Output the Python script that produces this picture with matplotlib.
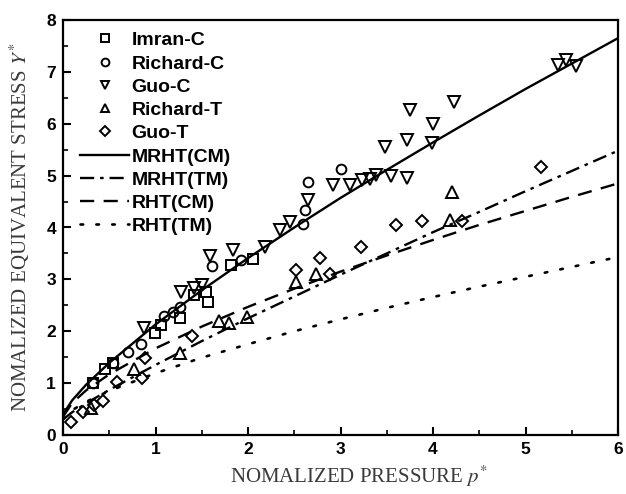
import matplotlib
matplotlib.use("Agg")
import matplotlib.pyplot as plt

# ---------------- data ----------------
imran_c_x = [0.32, 0.45, 0.54, 0.99, 1.06, 1.27, 1.42, 1.55, 1.57, 1.82, 2.05]
imran_c_y = [1.00, 1.27, 1.38, 1.96, 2.12, 2.25, 2.70, 2.76, 2.56, 3.28, 3.40]

richard_c_x = [0.32, 0.54, 0.70, 0.84, 1.09, 1.19, 1.27, 1.61, 1.92, 2.59, 2.62, 2.65, 3.01]
richard_c_y = [1.00, 1.38, 1.60, 1.75, 2.29, 2.38, 2.46, 3.26, 3.38, 4.06, 4.34, 4.88, 5.12]

guo_c_x = [0.88, 1.28, 1.42, 1.50, 1.59, 1.84, 2.18, 2.35, 2.45, 2.65, 2.92, 3.10, 3.23,
           3.32, 3.38, 3.48, 3.55, 3.72, 3.72, 3.75, 3.99, 4.00, 4.23, 5.35, 5.44, 5.55]
guo_c_y = [2.07, 2.76, 2.83, 2.90, 3.45, 3.56, 3.62, 3.95, 4.11, 4.53, 4.82, 4.82, 4.91,
           4.93, 5.01, 5.56, 4.99, 4.95, 5.68, 6.26, 5.63, 6.00, 6.42, 7.13, 7.23, 7.11]

richard_t_x = [0.30, 0.77, 1.26, 1.69, 1.79, 1.99, 2.52, 2.74, 4.18, 4.20]
richard_t_y = [0.53, 1.27, 1.58, 2.20, 2.16, 2.28, 2.95, 3.10, 4.14, 4.69]

guo_t_x = [0.09, 0.22, 0.34, 0.43, 0.58, 0.85, 0.89, 1.39, 2.52, 2.78, 2.89, 3.22, 3.60, 3.88, 4.31, 5.17]
guo_t_y = [0.26, 0.45, 0.58, 0.65, 1.03, 1.10, 1.48, 1.90, 3.18, 3.42, 3.11, 3.62, 4.04, 4.12, 4.13, 5.17]

curve_x = [0.0, 0.1, 0.25, 0.5, 1.0, 1.5, 2.0, 2.5, 3.0, 3.5, 4.0, 4.5, 5.0, 5.5, 6.0]
mrht_cm_y = [0.40, 0.67, 0.97, 1.39, 2.13, 2.79, 3.41, 4.00, 4.57, 5.11, 5.64, 6.16, 6.67, 7.16, 7.65]
mrht_tm_y = [0.30, 0.44, 0.61, 0.87, 1.35, 1.81, 2.25, 2.67, 3.09, 3.50, 3.91, 4.30, 4.70, 5.09, 5.48]
rht_cm_y = [0.35, 0.62, 0.86, 1.17, 1.67, 2.09, 2.47, 2.82, 3.15, 3.46, 3.76, 4.05, 4.32, 4.59, 4.85]
rht_tm_y = [0.30, 0.48, 0.64, 0.85, 1.19, 1.49, 1.75, 2.00, 2.23, 2.45, 2.66, 2.86, 3.05, 3.24, 3.43]

x_ticks = [0, 1, 2, 3, 4, 5, 6]
y_ticks = [0, 1, 2, 3, 4, 5, 6, 7, 8]

# ---------------- drawing ----------------
plt.rcParams['mathtext.fontset'] = 'stix'

fig = plt.figure(figsize=(6.26, 4.94), dpi=100)
ax = fig.add_axes([63/626, 59/494, 555/626, 415/494])

mk = dict(linestyle='none', markerfacecolor='none', markeredgecolor='black',
          markeredgewidth=1.4, markersize=7)
ax.plot(imran_c_x, imran_c_y, marker='s', label='Imran-C', **{**mk, 'markersize': 6.5})
ax.plot(richard_c_x, richard_c_y, marker='o', label='Richard-C', **mk)
ax.plot(guo_c_x, guo_c_y, marker='v', label='Guo-C', **{**mk, 'markersize': 8})
ax.plot(richard_t_x, richard_t_y, marker='^', label='Richard-T', **{**mk, 'markersize': 8})
ax.plot(guo_t_x, guo_t_y, marker='D', label='Guo-T', **{**mk, 'markersize': 6.5})

ax.plot(curve_x, mrht_cm_y, color='black', lw=1.7, linestyle='-', label='MRHT(CM)')
ax.plot(curve_x, mrht_tm_y, color='black', lw=1.7, linestyle=(0, (6, 2.5, 1.5, 2.5)), label='MRHT(TM)')
ax.plot(curve_x, rht_cm_y, color='black', lw=1.7, linestyle=(0, (6, 4)), label='RHT(CM)')
ax.plot(curve_x, rht_tm_y, color='black', lw=1.9, linestyle=(0, (1, 5)), dash_capstyle='round', label='RHT(TM)')

ax.set_xlim(0, 6)
ax.set_ylim(0, 8)
ax.set_xticks(x_ticks)
ax.set_yticks(y_ticks)
ax.set_xticks([0.5, 1.5, 2.5, 3.5, 4.5, 5.5], minor=True)
ax.set_yticks([0.5, 1.5, 2.5, 3.5, 4.5, 5.5, 6.5, 7.5], minor=True)
ax.tick_params(which='major', direction='in', length=6, width=1.5, pad=5)
ax.tick_params(which='minor', direction='in', length=3.5, width=1.2)
for lab in ax.get_xticklabels() + ax.get_yticklabels():
    lab.set_fontfamily('Liberation Sans')
    lab.set_fontweight('bold')
    lab.set_fontsize(12.5)
for sp in ax.spines.values():
    sp.set_linewidth(1.6)

ax.set_xlabel(r'NOMALIZED PRESSURE $p^{*}$', fontfamily='Liberation Serif',
              fontsize=15, color='#3a3a3a', labelpad=1)
ax.xaxis.set_label_coords(0.533, -0.07, transform=ax.transAxes)
ax.xaxis.label.set_va('top')
ax.set_ylabel(r'NOMALIZED EQUIVALENT STRESS $Y^{*}$', fontfamily='Liberation Serif',
              fontsize=15, color='#3a3a3a', labelpad=10)

leg = ax.legend(loc='upper left', bbox_to_anchor=(0.01, 1.0), frameon=False,
                prop={'family': 'Liberation Sans', 'weight': 'bold', 'size': 14},
                handlelength=2.5, handletextpad=0.15, labelspacing=0.29,
                borderaxespad=0.2, numpoints=1, markerscale=0.8)

fig.savefig('out.png', dpi=100)
